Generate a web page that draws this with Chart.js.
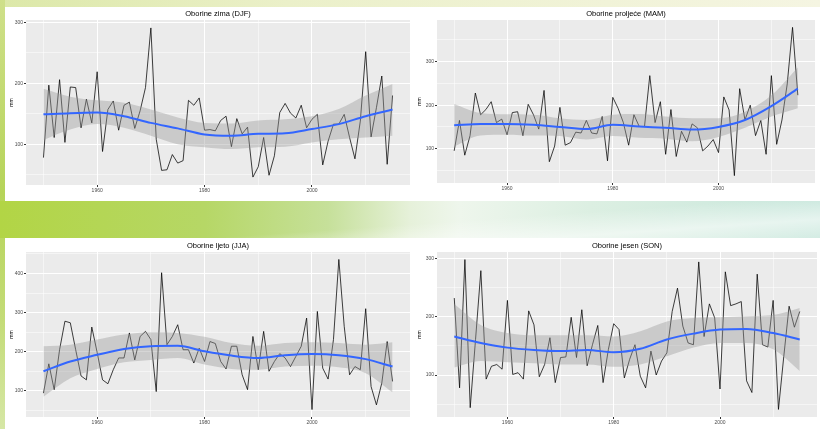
<!DOCTYPE html>
<html>
<head>
<meta charset="utf-8">
<script src="https://cdn.jsdelivr.net/npm/chart.js@4"></script>
<style>
    html, body { margin: 0; padding: 0; }
    body {
        width: 820px; height: 429px; position: relative; overflow: hidden;
        background: linear-gradient(to right, #dce8a8 0%, #ebf0c9 35%, #f5f5e2 100%);
        font-family: "Liberation Sans", Arial, sans-serif;
    }
    .strip { position: absolute; left: 0; top: 0; width: 5px; height: 429px;
        background: linear-gradient(to bottom, #cfe08a 0%, #b6d459 45%, #c4dc78 75%, #d6e7a6 100%); }
    .band { position: absolute; left: 0; top: 201px; width: 820px; height: 37px;
        background:
            linear-gradient(176deg, rgba(255,255,255,0) 55%, rgba(255,255,255,0.55) 80%, rgba(255,255,255,0.2) 100%),
            linear-gradient(to right, #b2d545 0%, #b6d766 25%, #c6e09a 40%, #e6f1da 50%, #eef6ec 56%, #dcefe2 72%, #c8e7dc 100%); }
    .row { position: absolute; left: 5px; width: 815px; background: #ffffff; }
    .panel { position: absolute; }
</style>
</head>
<body>
<div class="strip"></div>
<div class="band"></div>
<div class="row" style="top:7px;height:194px"></div>
<div class="row" style="top:238px;height:191px"></div>

<div class="panel" style="left:5px;top:7px;width:408px;height:194px"><canvas id="djfChart"></canvas></div>
<div class="panel" style="left:413px;top:7px;width:407px;height:194px"><canvas id="mamChart"></canvas></div>
<div class="panel" style="left:5px;top:238px;width:408px;height:191px"><canvas id="jjaChart"></canvas></div>
<div class="panel" style="left:413px;top:238px;width:407px;height:191px"><canvas id="sonChart"></canvas></div>

<script>
// yearly seasonal precipitation (mm), 1950-2015
var years = [1950, 1951, 1952, 1953, 1954, 1955, 1956, 1957, 1958, 1959,
    1960, 1961, 1962, 1963, 1964, 1965, 1966, 1967, 1968, 1969,
    1970, 1971, 1972, 1973, 1974, 1975, 1976, 1977, 1978, 1979,
    1980, 1981, 1982, 1983, 1984, 1985, 1986, 1987, 1988, 1989,
    1990, 1991, 1992, 1993, 1994, 1995, 1996, 1997, 1998, 1999,
    2000, 2001, 2002, 2003, 2004, 2005, 2006, 2007, 2008, 2009,
    2010, 2011, 2012, 2013, 2014, 2015];

var djf = [78, 197, 111, 206, 103, 194, 193, 127, 174, 135,
    219, 88, 157, 171, 123, 164, 169, 126, 155, 193,
    291, 108, 57, 58, 83, 69, 73, 172, 164, 176,
    123, 124, 122, 139, 146, 96, 142, 117, 128, 46,
    63, 111, 49, 81, 152, 167, 151, 143, 164, 127,
    141, 149, 66, 105, 133, 133, 149, 111, 76, 138,
    252, 112, 160, 212, 67, 180];

var mam = [95, 165, 85, 130, 228, 178, 190, 208, 160, 168,
    132, 183, 185, 130, 202, 178, 145, 234, 70, 106,
    195, 108, 114, 138, 136, 165, 136, 134, 174, 72,
    218, 193, 160, 108, 178, 151, 151, 268, 160, 208,
    87, 190, 82, 140, 115, 157, 148, 95, 106, 121,
    91, 219, 189, 38, 238, 166, 200, 130, 165, 87,
    268, 110, 166, 249, 379, 223];

var jja = [94, 169, 103, 205, 278, 274, 205, 138, 128, 263,
    198, 128, 118, 154, 184, 184, 248, 179, 239, 252,
    231, 98, 402, 218, 239, 269, 205, 205, 171, 209,
    175, 226, 221, 175, 156, 214, 214, 141, 103, 239,
    154, 252, 150, 175, 195, 184, 162, 188, 214, 286,
    52, 303, 158, 130, 231, 436, 265, 141, 162, 154,
    310, 111, 64, 120, 226, 124];

var son = [232, 78, 298, 44, 161, 279, 93, 115, 118, 110,
    228, 101, 104, 93, 210, 186, 97, 118, 164, 87,
    130, 131, 199, 130, 212, 116, 152, 185, 87, 144,
    188, 178, 95, 127, 152, 98, 78, 141, 100, 124,
    138, 209, 249, 184, 155, 152, 294, 166, 222, 198,
    76, 277, 219, 222, 226, 90, 70, 273, 152, 148,
    228, 41, 132, 218, 182, 209];

// loess fit with confidence band
var fitYears = [1950, 1955, 1960, 1965, 1970, 1975, 1980, 1985, 1990, 1995, 2000, 2005, 2010, 2015];

var djfFit = [149, 151, 152, 146, 135, 126, 116, 114, 117, 118, 125, 133, 146, 157];
var djfHi  = [191, 178, 172, 168, 157, 144, 135, 134, 139, 141, 146, 158, 180, 199];
var djfLo  = [107, 124, 133, 127, 114, 100, 95, 92, 95, 96, 103, 108, 111, 114];

var mamFit = [154, 157, 157, 155, 150, 145, 155, 151, 148, 144, 150, 166, 198, 238];
var mamHi  = [203, 182, 179, 178, 170, 166, 178, 180, 174, 170, 170, 185, 223, 287];
var mamLo  = [105, 130, 132, 130, 129, 121, 129, 125, 123, 117, 127, 148, 174, 193];

var jjaFit = [150, 175, 192, 207, 214, 215, 201, 190, 184, 191, 194, 191, 181, 162];
var jjaHi  = [214, 218, 231, 244, 250, 248, 238, 222, 215, 222, 224, 222, 218, 224];
var jjaLo  = [85, 132, 156, 173, 179, 184, 167, 156, 154, 162, 164, 160, 145, 96];

var sonFit = [166, 155, 147, 143, 141, 143, 139, 145, 161, 171, 178, 179, 172, 161];
var sonHi  = [222, 186, 172, 168, 168, 168, 166, 175, 192, 198, 199, 201, 203, 215];
var sonLo  = [113, 124, 122, 120, 118, 118, 114, 118, 132, 147, 155, 155, 144, 107];

(function() {
    var FONT = '"Liberation Sans", Arial, sans-serif';

    // grey ggplot panel behind the plot area
    var panelBg = {
        id: 'panelBg',
        beforeDraw: function(chart) {
            var a = chart.chartArea;
            var c = chart.ctx;
            c.save();
            c.fillStyle = '#ebebeb';
            c.fillRect(a.left, a.top, a.right - a.left, a.bottom - a.top);
            c.restore();
        }
    };

    function points(xs, ys) {
        return xs.map(function(x, i) { return { x: x, y: ys[i] }; });
    }

    function makeChart(id, title, values, fit, hi, lo, yMin, yMax, box) {
        var ctx = document.getElementById(id).getContext('2d');
        return new Chart(ctx, {
            type: 'line',
            data: {
                datasets: [
                    { data: points(years, values), borderColor: 'rgba(0,0,0,0.75)', borderWidth: 1, tension: 0, order: 4 },
                    { data: points(fitYears, hi), borderWidth: 0, borderColor: 'rgba(0,0,0,0)', fill: false, cubicInterpolationMode: 'monotone', order: 3 },
                    { data: points(fitYears, lo), borderWidth: 0, borderColor: 'rgba(0,0,0,0)', fill: '-1',
                      backgroundColor: 'rgba(153,153,153,0.4)', cubicInterpolationMode: 'monotone', order: 2 },
                    { data: points(fitYears, fit), borderColor: '#3366FF', borderWidth: 2, cubicInterpolationMode: 'monotone', order: 1 }
                ]
            },
            options: {
                responsive: true,
                maintainAspectRatio: false,
                animation: false,
                elements: { point: { radius: 0 } },
                layout: { padding: { top: box.top, right: box.right, left: 0, bottom: 0 } },
                plugins: {
                    legend: { display: false },
                    tooltip: { enabled: false },
                    title: {
                        display: true,
                        text: title,
                        fullSize: false,
                        color: '#000000',
                        font: { size: 7.5, weight: 'normal', family: FONT },
                        padding: { top: 0, bottom: 2 }
                    }
                },
                scales: {
                    x: {
                        type: 'linear',
                        min: 1946.75,
                        max: 2018.25,
                        afterFit: function(scale) { scale.height = box.xh; },
                        border: { display: false },
                        grid: {
                            color: '#ffffff',
                            lineWidth: function(c) { return c.tick && c.tick.value % 20 === 0 ? 1 : 0.5; },
                            tickColor: function(c) { return c.tick && c.tick.value % 20 === 0 ? '#333333' : 'rgba(0,0,0,0)'; },
                            tickLength: 2
                        },
                        ticks: {
                            stepSize: 10,
                            includeBounds: false,
                            autoSkip: false,
                            maxRotation: 0,
                            padding: 1,
                            color: '#4d4d4d',
                            font: { size: 5, family: FONT },
                            callback: function(v) { return v % 20 === 0 ? String(v) : ''; }
                        }
                    },
                    y: {
                        min: yMin,
                        max: yMax,
                        afterFit: function(scale) { scale.width = box.yw; },
                        border: { display: false },
                        title: {
                            display: true,
                            text: 'mm',
                            color: '#000000',
                            font: { size: 5, family: FONT },
                            padding: { top: 4, bottom: 0 }
                        },
                        grid: {
                            color: '#ffffff',
                            lineWidth: function(c) { return c.tick && c.tick.value % 100 === 0 ? 1 : 0.5; },
                            tickColor: function(c) { return c.tick && c.tick.value % 100 === 0 ? '#333333' : 'rgba(0,0,0,0)'; },
                            tickLength: 2
                        },
                        ticks: {
                            stepSize: 50,
                            includeBounds: false,
                            autoSkip: false,
                            padding: 1,
                            color: '#4d4d4d',
                            font: { size: 5, family: FONT },
                            callback: function(v) { return v % 100 === 0 ? String(v) : ''; }
                        }
                    }
                }
            },
            plugins: [panelBg]
        });
    }

    document.addEventListener("DOMContentLoaded", function () {
        makeChart('djfChart', 'Oborine zima (DJF)', djf, djfFit, djfHi, djfLo, 33, 304,
            { top: 2, right: 3, yw: 21, xh: 16 });
        makeChart('mamChart', 'Oborine proljeće (MAM)', mam, mamFit, mamHi, mamLo, 21, 396,
            { top: 2, right: 5, yw: 24, xh: 18 });
        makeChart('jjaChart', 'Oborine ljeto (JJA)', jja, jjaFit, jjaHi, jjaLo, 33, 455,
            { top: 3, right: 3, yw: 21, xh: 12 });
        makeChart('sonChart', 'Oborine jesen (SON)', son, sonFit, sonHi, sonLo, 28, 311,
            { top: 3, right: 3, yw: 24, xh: 12 });
    });
})();
</script>
</body>
</html>
